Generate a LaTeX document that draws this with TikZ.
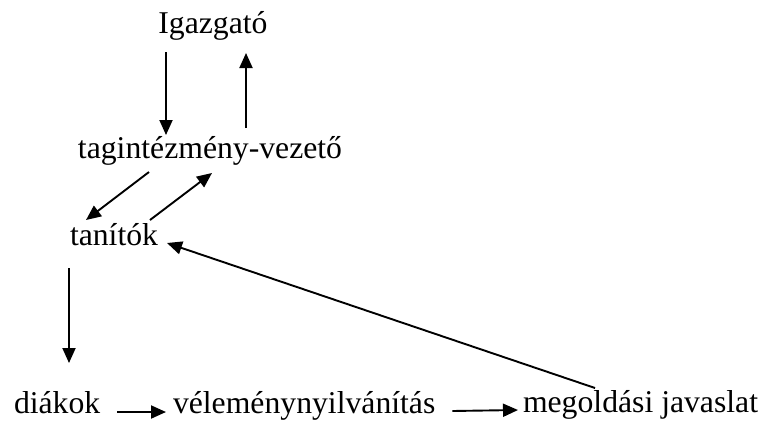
\documentclass[tikz,border=0pt]{standalone}
\usepackage{fontspec}
\setmainfont{Liberation Serif}
\usetikzlibrary{arrows.meta}

\begin{document}
\begin{tikzpicture}[x=1pt, y=-1pt,
		label/.style={inner sep=0mm, outer sep=0mm, font=\fontsize{31.7}{38}\selectfont},
		arr/.style={-{Triangle[length=15pt, width=13pt]}, line width=1.9pt}]
		\useasboundingbox (0,0) rectangle (770,421);
		\node[label, anchor=base] at (213,33) (igazgato) {Igazgató};
		\node[label, anchor=base] at (210,158) (vezeto) {tagintézmény-vezető};
		\node[label, anchor=base west] at (70,245) (tanitok) {tanítók};
		\node[label, anchor=base west] at (14,413) (diakok) {diákok};
		\node[label, anchor=base west] at (173,413) (velemeny) {véleménynyilvánítás};
		\node[label, anchor=base west] at (523,412) (javaslat) {megoldási javaslat};
		\draw[arr] ([xshift=-47pt, yshift=-19pt]igazgato.base) -- ([xshift=-44pt, yshift=23pt]vezeto.base);
		\draw[arr] ([xshift=36pt, yshift=30pt]vezeto.base) -- ([xshift=33pt, yshift=-20pt]igazgato.base);
		\draw[arr] ([xshift=-61pt, yshift=-14pt]vezeto.base) -- ([xshift=16pt, yshift=25pt]tanitok.base west);
		\draw[arr] ([xshift=80pt, yshift=25pt]tanitok.base west) -- ([xshift=2pt, yshift=-15pt]vezeto.base);
		\draw[arr] ([xshift=-1pt, yshift=-23pt]tanitok.base west) -- ([xshift=55pt, yshift=50pt]diakok.base west);
		\draw[arr] ([xshift=17pt, yshift=1pt]diakok.base east) -- ([xshift=-7pt, yshift=1pt]velemeny.base west);
		\draw[arr] ([xshift=17pt, yshift=2pt]velemeny.base east) -- ([xshift=-5pt, yshift=2pt]javaslat.base west);
		\draw[arr] ([xshift=72pt, yshift=24pt]javaslat.base west) -- ([xshift=97pt, yshift=2pt]tanitok.base west);
	\end{tikzpicture}
\end{document}
